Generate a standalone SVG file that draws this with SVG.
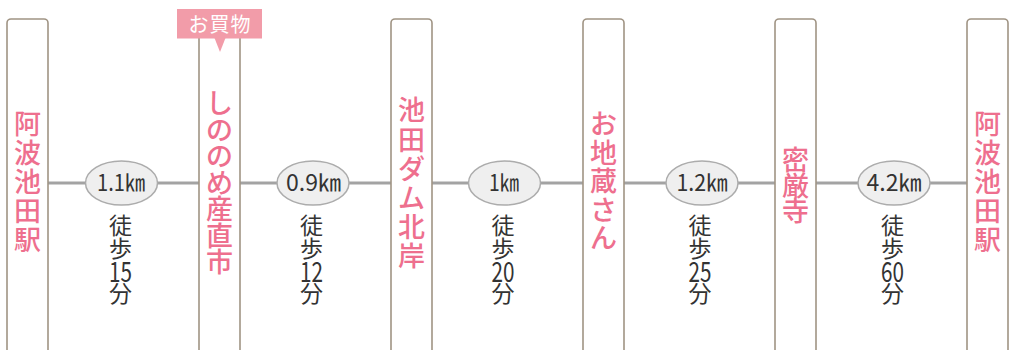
<svg xmlns="http://www.w3.org/2000/svg" width="1009" height="350" viewBox="0 0 1009 350">
<style>
.box{fill:#fff;stroke:#a09484;stroke-width:1.6}
.name{font-family:"Noto Sans CJK JP","Noto Sans",sans-serif;font-size:27px;font-weight:500;fill:#ee6f8e;text-anchor:middle}
.conn{stroke:#a3a3a3;stroke-width:3;fill:none}
.dist{fill:#efefef;stroke:#acacac;stroke-width:1.5}
.km{font-family:"Noto Sans CJK JP","Noto Sans",sans-serif;font-size:23px;fill:#333;text-anchor:middle}
.walk{font-family:"Noto Sans CJK JP","Noto Sans",sans-serif;font-size:23px;fill:#333;text-anchor:middle}
.num{font-family:"Noto Sans CJK JP","Noto Sans",sans-serif;font-size:28px;fill:#333;text-anchor:middle}
.tag{fill:#f29ca9}
.tagtext{font-family:"Noto Sans CJK JP","Noto Sans",sans-serif;font-size:20px;fill:#fff;text-anchor:middle;letter-spacing:1px}
</style>
<rect width="1009" height="350" fill="#fff"/>
<g id="connectors">
<line class="conn" x1="48" y1="183" x2="199" y2="183"/>
<line class="conn" x1="240" y1="183" x2="391" y2="183"/>
<line class="conn" x1="432" y1="183" x2="583" y2="183"/>
<line class="conn" x1="624" y1="183" x2="775" y2="183"/>
<line class="conn" x1="816" y1="183" x2="967" y2="183"/>
</g>
<g id="node1">
<rect class="box" x="7" y="19" width="41" height="345" rx="4"/>
<text class="name"><tspan x="27.5" y="133.7">阿</tspan><tspan x="27.5" y="162.7">波</tspan><tspan x="27.5" y="191.7">池</tspan><tspan x="27.5" y="220.7">田</tspan><tspan x="27.5" y="249.7">駅</tspan></text>
</g>
<g id="node2">
<rect class="box" x="199" y="19" width="41" height="345" rx="4"/>
<text class="name"><tspan x="219.5" y="113">し</tspan><tspan x="219.5" y="139.5">の</tspan><tspan x="219.5" y="166">の</tspan><tspan x="219.5" y="192.5">め</tspan><tspan x="219.5" y="219">産</tspan><tspan x="219.5" y="245.5">直</tspan><tspan x="219.5" y="272">市</tspan></text>
</g>
<g id="tag-shopping">
<rect class="tag" x="177" y="9" width="85" height="29.5"/>
<polygon class="tag" points="214.5,38 225.5,38 220,52"/>
<text class="tagtext" x="220" y="31.5">お買物</text>
</g>
<g id="node3">
<rect class="box" x="391" y="19" width="41" height="345" rx="4"/>
<text class="name"><tspan x="411.5" y="120.3">池</tspan><tspan x="411.5" y="149.5">田</tspan><tspan x="411.5" y="178.7">ダ</tspan><tspan x="411.5" y="207.9">ム</tspan><tspan x="411.5" y="237.1">北</tspan><tspan x="411.5" y="266.3">岸</tspan></text>
</g>
<g id="node4">
<rect class="box" x="583" y="19" width="41" height="345" rx="4"/>
<text class="name"><tspan x="603.5" y="134">お</tspan><tspan x="603.5" y="162.5">地</tspan><tspan x="603.5" y="191">蔵</tspan><tspan x="603.5" y="219.5">さ</tspan><tspan x="603.5" y="248">ん</tspan></text>
</g>
<g id="node5">
<rect class="box" x="775" y="19" width="41" height="345" rx="4"/>
<text class="name"><tspan x="795.5" y="170.3">密</tspan><tspan x="795.5" y="195.8">厳</tspan><tspan x="795.5" y="221.3">寺</tspan></text>
</g>
<g id="node6">
<rect class="box" x="967" y="19" width="41" height="345" rx="4"/>
<text class="name"><tspan x="987.5" y="133.7">阿</tspan><tspan x="987.5" y="162.7">波</tspan><tspan x="987.5" y="191.7">池</tspan><tspan x="987.5" y="220.7">田</tspan><tspan x="987.5" y="249.7">駅</tspan></text>
</g>
<g id="edge-labels">
<g id="leg1">
<ellipse class="dist" cx="121.5" cy="183" rx="36" ry="22"/>
<text class="km" x="121" y="190.5" textLength="48" lengthAdjust="spacingAndGlyphs">1.1㎞</text>
<text class="walk"><tspan x="120.5" y="234">徒</tspan><tspan x="120.5" y="257">歩</tspan></text>
<text class="num" x="120.5" y="282" textLength="23" lengthAdjust="spacingAndGlyphs">15</text>
<text class="walk" x="120.5" y="302">分</text>
</g>
<g id="leg2">
<ellipse class="dist" cx="313" cy="183" rx="36" ry="22"/>
<text class="km" x="313.5" y="190.5" textLength="55" lengthAdjust="spacingAndGlyphs">0.9㎞</text>
<text class="walk"><tspan x="311.5" y="234">徒</tspan><tspan x="311.5" y="257">歩</tspan></text>
<text class="num" x="311.5" y="282" textLength="23" lengthAdjust="spacingAndGlyphs">12</text>
<text class="walk" x="311.5" y="302">分</text>
</g>
<g id="leg3">
<ellipse class="dist" cx="504.5" cy="183" rx="36" ry="22"/>
<text class="km" x="504" y="190.5" textLength="30" lengthAdjust="spacingAndGlyphs">1㎞</text>
<text class="walk"><tspan x="503" y="234">徒</tspan><tspan x="503" y="257">歩</tspan></text>
<text class="num" x="503" y="282" textLength="23" lengthAdjust="spacingAndGlyphs">20</text>
<text class="walk" x="503" y="302">分</text>
</g>
<g id="leg4">
<ellipse class="dist" cx="702" cy="183" rx="36" ry="22"/>
<text class="km" x="702" y="190.5" textLength="51" lengthAdjust="spacingAndGlyphs">1.2㎞</text>
<text class="walk"><tspan x="700" y="234">徒</tspan><tspan x="700" y="257">歩</tspan></text>
<text class="num" x="700" y="282" textLength="23" lengthAdjust="spacingAndGlyphs">25</text>
<text class="walk" x="700" y="302">分</text>
</g>
<g id="leg5">
<ellipse class="dist" cx="894" cy="183" rx="36" ry="22"/>
<text class="km" x="894" y="190.5" textLength="55" lengthAdjust="spacingAndGlyphs">4.2㎞</text>
<text class="walk"><tspan x="892.5" y="234">徒</tspan><tspan x="892.5" y="257">歩</tspan></text>
<text class="num" x="892.5" y="282" textLength="23" lengthAdjust="spacingAndGlyphs">60</text>
<text class="walk" x="892.5" y="302">分</text>
</g>
</g>
</svg>
